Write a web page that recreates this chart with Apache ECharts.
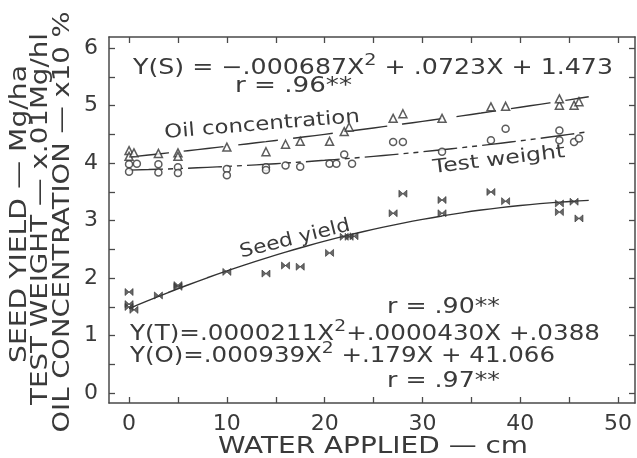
<!DOCTYPE html>
<html>
<head>
<meta charset="utf-8">
<script src="https://cdn.jsdelivr.net/npm/echarts@6/dist/echarts.min.js"></script>
<style>
  html, body { margin: 0; padding: 0; background: #fff; }
  #chart { width: 637px; height: 458px; }
</style>
</head>
<body>
<div id="chart"></div>
<script>
// Water applied (cm) and measured responses
const seedX = [0, 0, 0, 0.5, 3, 5, 5, 10, 14, 16, 17.5, 20.5, 22, 22.5, 23, 27, 28, 32, 32, 37, 38.5, 44, 44, 45.5, 46];
const seedY = [1.76, 1.55, 1.50, 1.45, 1.70, 1.88, 1.85, 2.11, 2.08, 2.22, 2.20, 2.44, 2.72, 2.72, 2.73, 3.13, 3.47, 3.36, 3.13, 3.50, 3.34, 3.15, 3.30, 3.33, 3.04];

const oilX = [0, 0, 0.5, 3, 5, 5, 10, 14, 16, 17.5, 20.5, 22, 22.5, 27, 28, 32, 37, 38.5, 44, 44, 45.5, 46];
const oilY = [4.22, 4.12, 4.18, 4.17, 4.18, 4.12, 4.28, 4.20, 4.33, 4.38, 4.38, 4.55, 4.63, 4.78, 4.86, 4.78, 4.98, 4.99, 5.01, 5.12, 5.01, 5.07];

const testX = [0, 0, 0.8, 3, 3, 5, 5, 10, 10, 14, 14, 16, 17.5, 20.5, 21.2, 22, 22.8, 27, 28, 32, 37, 38.5, 44, 44, 45.5, 46];
const testY = [3.98, 3.85, 3.99, 3.98, 3.84, 3.93, 3.83, 3.90, 3.79, 3.93, 3.88, 3.96, 3.94, 3.99, 3.99, 4.15, 3.99, 4.37, 4.37, 4.20, 4.40, 4.60, 4.40, 4.57, 4.37, 4.43];

// Regression coefficients [c, b, a] for c + b*X + a*X^2, in axis units
const seedFit = [1.473, 0.0723, -0.000687];
const oilFit = [4.1066, 0.0179, 0.0000939];
const testFit = [3.88, 0.0043, 0.000211];
const fitX = [0, 2, 4, 6, 8, 10, 12, 14, 16, 18, 20, 22, 24, 26, 28, 30, 32, 34, 36, 38, 40, 42, 44, 46, 47];

// Axis ticks and labels
const xTicks = [0, 5, 10, 15, 20, 25, 30, 35, 40, 45, 50];
const xLabels = [0, 10, 20, 30, 40, 50];
const yTicks = [0, 0.5, 1, 1.5, 2, 2.5, 3, 3.5, 4, 4.5, 5, 5.5, 6];
const yLabels = [0, 1, 2, 3, 4, 5, 6];

const FONT = '"DejaVu Sans", sans-serif';
const INK = '#3a3a3a';
const FRAME = '#4a4a4a';

const pairs = (xs, ys) => xs.map((x, i) => [x, ys[i]]);
const curve = (c) => fitX.map(x => [x, c[0] + c[1] * x + c[2] * x * x]);

// Measure text so each label can be stretched to the plotter lettering width
const mctx = document.createElement('canvas').getContext('2d');
function measure(parts) {
  let w = 0;
  parts.forEach(([t, size]) => {
    mctx.font = size + 'px "DejaVu Sans"';
    w += mctx.measureText(t).width;
  });
  return w;
}

// Text with an optional superscript "2"
function label(o) {
  const size = o.size || 21;
  const supSize = Math.round(size * 0.78);
  let text, parts;
  if (o.sup) {
    text = o.pre + '{s|2}' + o.post;
    parts = [[o.pre, size], ['2', supSize], [o.post, size]];
  } else {
    text = o.text;
    parts = [[o.text, size]];
  }
  const sx = o.width ? o.width / measure(parts) : 1;
  return {
    type: 'text',
    x: o.x, y: o.y,
    rotation: (o.rot || 0) * Math.PI / 180,
    scaleX: sx,
    silent: true,
    z: 100,
    style: {
      text: text,
      fontSize: size,
      fontFamily: FONT,
      fill: INK,
      align: o.align || 'left',
      verticalAlign: 'middle',
      lineHeight: o.sup ? size + 12 : size + 4,
      rich: {
        s: { fontSize: supSize, fontFamily: FONT, fill: INK, verticalAlign: 'top', lineHeight: supSize + 2 }
      }
    }
  };
}

const chart = echarts.init(document.getElementById('chart'), null, { renderer: 'canvas' });

const axisLine = { show: true, onZero: false, lineStyle: { color: FRAME, width: 1.5 } };
const tickStyle = { color: FRAME, width: 1.3 };

chart.setOption({
  animation: false,
  backgroundColor: '#ffffff',
  grid: { left: 109, top: 37, right: 2, bottom: 55, containLabel: false },
  xAxis: [
    {
      type: 'value', min: -2.05, max: 51.73, position: 'bottom',
      axisLine: axisLine,
      axisTick: { show: true, inside: true, length: 6, lineStyle: tickStyle, customValues: xTicks },
      axisLabel: { show: true, customValues: xLabels, margin: 10, fontSize: 22, fontFamily: FONT, color: INK },
      splitLine: { show: false }
    },
    {
      type: 'value', min: -2.05, max: 51.73, position: 'top',
      axisLine: axisLine,
      axisTick: { show: true, inside: true, length: 6, lineStyle: tickStyle, customValues: xTicks },
      axisLabel: { show: false },
      splitLine: { show: false }
    }
  ],
  yAxis: [
    {
      type: 'value', min: -0.17, max: 6.195, position: 'left',
      axisLine: axisLine,
      axisTick: { show: true, inside: true, length: 6, lineStyle: tickStyle, customValues: yTicks },
      axisLabel: { show: true, customValues: yLabels, margin: 11, fontSize: 22, fontFamily: FONT, color: INK },
      splitLine: { show: false }
    },
    {
      type: 'value', min: -0.17, max: 6.195, position: 'right',
      axisLine: axisLine,
      axisTick: { show: true, inside: true, length: 6, lineStyle: tickStyle, customValues: yTicks },
      axisLabel: { show: false },
      splitLine: { show: false }
    }
  ],
  series: [
    {
      name: 'Seed yield fit', type: 'line', data: curve(seedFit), showSymbol: false, smooth: true,
      lineStyle: { color: '#333', width: 1.4 }, z: 2
    },
    {
      name: 'Oil concentration fit', type: 'line', data: curve(oilFit), showSymbol: false, smooth: true,
      lineStyle: { color: '#333', width: 1.4, type: [40, 15] }, z: 2
    },
    {
      name: 'Test weight fit', type: 'line', data: curve(testFit), showSymbol: false, smooth: true,
      lineStyle: { color: '#333', width: 1.4, type: [34, 5, 5, 5, 5, 5] }, z: 2
    },
    {
      name: 'Seed yield', type: 'scatter', data: pairs(seedX, seedY),
      symbol: 'path://M0,0L10,8L10,0L0,8Z', symbolSize: [8, 7],
      itemStyle: { color: '#444', borderColor: '#333', borderWidth: 0.8 }, z: 3
    },
    {
      name: 'Oil concentration', type: 'scatter', data: pairs(oilX, oilY),
      symbol: 'triangle', symbolSize: 8,
      itemStyle: { color: '#fff', borderColor: '#333', borderWidth: 1.5 }, z: 3
    },
    {
      name: 'Test weight', type: 'scatter', data: pairs(testX, testY),
      symbol: 'circle', symbolSize: 7,
      itemStyle: { color: '#fff', borderColor: '#333', borderWidth: 1.5 }, z: 3
    }
  ],
  graphic: [
    // Regression equations and correlation coefficients
    label({ sup: true, pre: 'Y(S) = \u2212.000687X', post: ' + .0723X + 1.473', x: 133, y: 69, width: 480 }),
    label({ text: 'r = .96**', x: 235, y: 87, width: 117 }),
    label({ text: 'r = .90**', x: 387, y: 308, width: 113 }),
    label({ sup: true, pre: 'Y(T)=.0000211X', post: '+.0000430X +.0388', x: 130, y: 335, width: 470 }),
    label({ sup: true, pre: 'Y(O)=.000939X', post: ' +.179X + 41.066', x: 130, y: 357, width: 425 }),
    label({ text: 'r = .97**', x: 387, y: 382, width: 113 }),
    // Curve names
    label({ text: 'Oil concentration', x: 262, y: 125, width: 196, size: 19, rot: 4.7, align: 'center' }),
    label({ text: 'Test weight', x: 499, y: 160, width: 133, size: 19, rot: 7, align: 'center' }),
    label({ text: 'Seed yield', x: 295, y: 239, width: 113, size: 19, rot: 14, align: 'center' }),
    // Axis titles
    label({ text: 'WATER APPLIED \u2014 cm', x: 373, y: 447, width: 310, size: 23, align: 'center' }),
    label({ text: 'SEED YIELD \u2014 Mg/ha', x: 20, y: 214, width: 298, size: 23, rot: 90, align: 'center' }),
    label({ text: 'TEST WEIGHT \u2014 x.01Mg/hl', x: 41, y: 219, width: 372, size: 23, rot: 90, align: 'center' }),
    label({ text: 'OIL CONCENTRATION \u2014 x10 %', x: 63, y: 222, width: 421, size: 23, rot: 90, align: 'center' })
  ]
});
</script>
</body>
</html>
